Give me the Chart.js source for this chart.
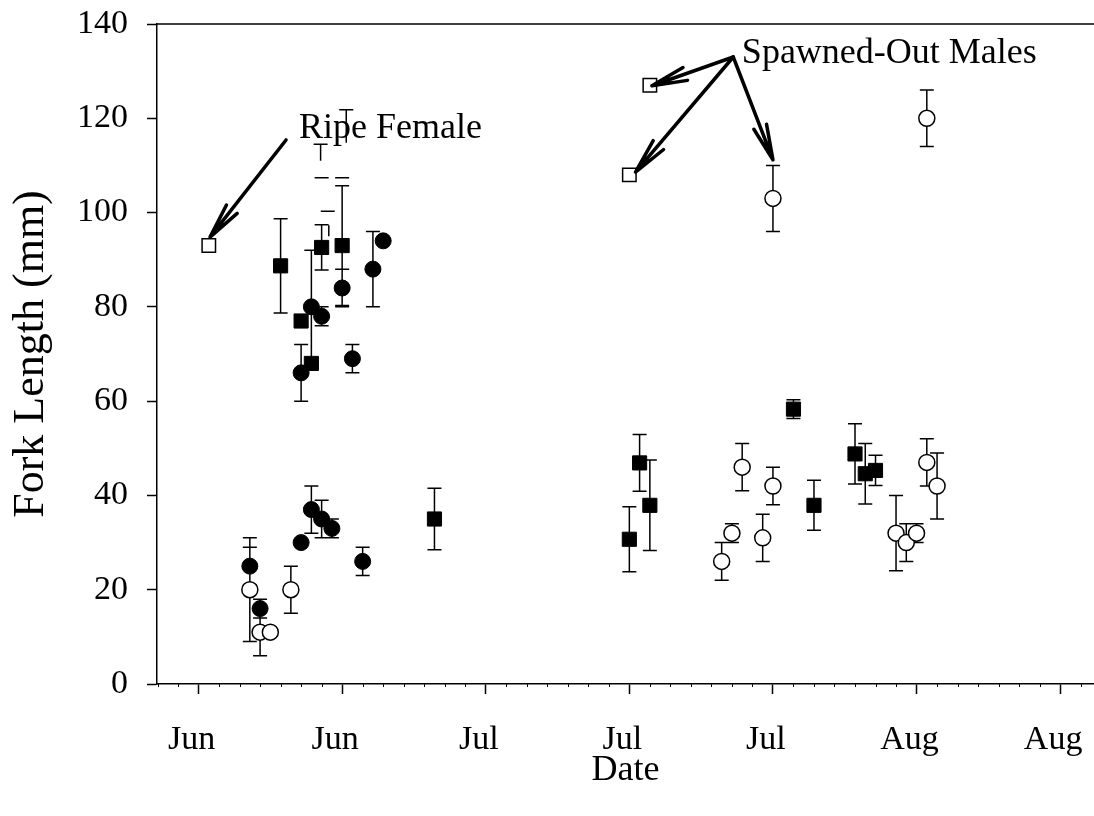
<!DOCTYPE html>
<html>
<head>
<meta charset="utf-8">
<title>Fork Length by Date</title>
<script src="https://cdn.jsdelivr.net/npm/chart.js@4/dist/chart.umd.min.js"></script>
<style>
  html, body { margin: 0; padding: 0; background: #fff; }
  #wrap { width: 1094px; height: 816px; }
</style>
</head>
<body>
<div id="wrap"><canvas id="fishChart" width="1094" height="816"></canvas></div>
<script>
/*================== data =========================*/
// x = days after the first labelled tick
const tickDays = [0, 14, 28, 42, 56, 70, 84];
const tickLabels = ['Jun', 'Jun', 'Jul', 'Jul', 'Jul', 'Aug', 'Aug'];

const filledCircleDays = [5, 6, 10, 10, 11, 11, 12, 12, 13, 14, 15, 16, 17, 18];
const filledCircleLen  = [25, 16, 30, 66, 37, 80, 35, 78, 33, 84, 69, 26, 88, 94];
const filledCircleErr  = [4, 2, 0, 6, 5, 12, 4, 2, 2, 4, 3, 3, 8, 0];

const filledSquareDays = [8, 10, 11, 12, 14, 23, 42, 43, 44, 58, 60, 64, 65, 66];
const filledSquareLen  = [88.7, 77, 68, 92.6, 93, 35, 30.7, 46.9, 37.9, 58.3, 37.9, 48.8, 44.6, 45.3];
const filledSquareErr  = [10, 0, 0, 4.8, 12.7, 6.5, 6.9, 6, 9.6, 2, 5.3, 6.4, 6.4, 3.2];

const openCircleDays = [5, 6, 7, 9, 51, 52, 53, 55, 56, 56, 68, 69, 70, 71, 71, 72];
const openCircleLen  = [20, 11, 11, 20, 26, 32, 46, 31, 42, 103, 32, 30, 32, 47, 120, 42];
const openCircleErr  = [11, 5, 0, 5, 4, 2, 5, 5, 4, 7, 8, 4, 2, 5, 6, 7];

const openSquareDays = [1, 42, 44];
const openSquareLen  = [93, 108, 127];

// loose error-bar pieces above the June cluster (no marker attached)
const strayBarDays = [11.9, 14.4, 12.7];
const strayBarLo   = [111, 114.8, 95];
const strayBarHi   = [114.5, 121.8, 97.3];
const strayBarCap  = [true, true, false];
const strayCapDays = [12, 14, 12.6];
const strayCapLen  = [107.4, 107.4, 100.3];

// annotation text + arrows, in axis units
const notes = [
    { text: 'Ripe Female', x: 9.8, y: 115.8,
      arrows: [[8.53, 115.4, 1.12, 94.8]] },
    { text: 'Spawned-Out Males', x: 52.97, y: 131.8,
      arrows: [[52.13, 133, 44.2, 126.9], [52.13, 133, 42.6, 108.6], [52.13, 133, 56, 111.2]] }
];

const serif = "'Liberation Serif', 'Times New Roman', serif";

function toPoints(xs, ys) {
    return xs.map((x, i) => ({ x: x, y: ys[i] }));
}

/*================== plugins =========================*/
const errorBars = {
    id: 'errorBars',
    beforeDatasetsDraw(chart) {
        const ctx = chart.ctx;
        const xs = chart.scales.x, ys = chart.scales.y;
        const cap = 7;
        ctx.save();
        ctx.strokeStyle = '#000';
        ctx.lineWidth = 1.5;
        ctx.beginPath();
        chart.data.datasets.forEach(ds => {
            if (!ds.errors) return;
            ds.data.forEach((p, i) => {
                let e = ds.errors[i];
                if (!e) return;
                let px = xs.getPixelForValue(p.x);
                let top = ys.getPixelForValue(p.y + e);
                let bot = ys.getPixelForValue(p.y - e);
                ctx.moveTo(px, top); ctx.lineTo(px, bot);
                ctx.moveTo(px - cap, top); ctx.lineTo(px + cap, top);
                ctx.moveTo(px - cap, bot); ctx.lineTo(px + cap, bot);
            });
        });
        strayBarDays.forEach((d, i) => {
            let px = xs.getPixelForValue(d);
            let top = ys.getPixelForValue(strayBarHi[i]);
            ctx.moveTo(px, top); ctx.lineTo(px, ys.getPixelForValue(strayBarLo[i]));
            if (strayBarCap[i]) { ctx.moveTo(px - cap, top); ctx.lineTo(px + cap, top); }
        });
        strayCapDays.forEach((d, i) => {
            let px = xs.getPixelForValue(d), py = ys.getPixelForValue(strayCapLen[i]);
            ctx.moveTo(px - cap, py); ctx.lineTo(px + cap, py);
        });
        ctx.stroke();
        ctx.restore();
    }
};

const frame = {
    id: 'frame',
    afterDraw(chart) {
        const ctx = chart.ctx;
        const a = chart.chartArea;
        const xs = chart.scales.x, ys = chart.scales.y;
        ctx.save();
        ctx.strokeStyle = '#000';
        ctx.lineWidth = 1.5;
        // top line
        ctx.beginPath();
        ctx.moveTo(a.left, a.top); ctx.lineTo(a.right, a.top);
        ctx.stroke();
        // minor ticks every 2 days
        ctx.lineWidth = 1;
        ctx.beginPath();
        for (let d = Math.ceil(xs.min / 2) * 2; d <= xs.max; d += 2) {
            if (tickDays.includes(d)) continue;
            let px = Math.round(xs.getPixelForValue(d)) + 0.5;
            ctx.moveTo(px, a.bottom); ctx.lineTo(px, a.bottom + 3);
        }
        ctx.stroke();

        // annotations
        ctx.lineWidth = 3.5;
        ctx.lineCap = 'round';
        ctx.lineJoin = 'round';
        notes.forEach(n => {
            n.arrows.forEach(ar => {
                let x0 = xs.getPixelForValue(ar[0]), y0 = ys.getPixelForValue(ar[1]);
                let x1 = xs.getPixelForValue(ar[2]), y1 = ys.getPixelForValue(ar[3]);
                let ang = Math.atan2(y0 - y1, x0 - x1);
                let len = 36, spread = 0.19;
                ctx.beginPath();
                ctx.moveTo(x0, y0); ctx.lineTo(x1, y1);
                ctx.moveTo(x1 + len * Math.cos(ang - spread), y1 + len * Math.sin(ang - spread));
                ctx.lineTo(x1, y1);
                ctx.lineTo(x1 + len * Math.cos(ang + spread), y1 + len * Math.sin(ang + spread));
                ctx.stroke();
            });
            ctx.fillStyle = '#000';
            ctx.font = '36px ' + serif;
            ctx.textAlign = 'left';
            ctx.textBaseline = 'alphabetic';
            ctx.fillText(n.text, xs.getPixelForValue(n.x), ys.getPixelForValue(n.y));
        });
        ctx.restore();
    }
};

/*================== chart =========================*/
const ctx = document.getElementById('fishChart').getContext('2d');

const fishChart = new Chart(ctx, {
    type: 'scatter',
    data: {
        datasets: [{
            label: 'Open circles',
            data: toPoints(openCircleDays, openCircleLen),
            errors: openCircleErr,
            pointStyle: 'circle',
            pointRadius: 8,
            backgroundColor: '#fff',
            borderColor: '#000',
            borderWidth: 1.5
        }, {
            label: 'Filled circles',
            data: toPoints(filledCircleDays, filledCircleLen),
            errors: filledCircleErr,
            pointStyle: 'circle',
            pointRadius: 8,
            backgroundColor: '#000',
            borderColor: '#000',
            borderWidth: 1
        }, {
            label: 'Filled squares',
            data: toPoints(filledSquareDays, filledSquareLen),
            errors: filledSquareErr,
            pointStyle: 'rect',
            pointRadius: 10,
            backgroundColor: '#000',
            borderColor: '#000',
            borderWidth: 1
        }, {
            label: 'Open squares',
            data: toPoints(openSquareDays, openSquareLen),
            pointStyle: 'rect',
            pointRadius: 9.5,
            backgroundColor: '#fff',
            borderColor: '#000',
            borderWidth: 1.5
        }]
    },
    options: {
        responsive: false,
        animation: false,
        layout: { autoPadding: false, padding: { top: 24, right: 0, left: 0, bottom: 0 } },
        plugins: {
            legend: { display: false },
            tooltip: { enabled: false }
        },
        scales: {
            x: {
                type: 'linear',
                min: -4.05,
                max: 87.3,
                afterFit: s => { s.height = 132; s.paddingLeft = 0; s.paddingRight = 0; },
                afterBuildTicks: s => { s.ticks = tickDays.map(v => ({ value: v })); },
                grid: { drawOnChartArea: false, tickLength: 10, color: '#000', tickWidth: 1.5 },
                border: { color: '#000', width: 1.5 },
                ticks: {
                    autoSkip: false,
                    maxRotation: 0,
                    padding: 26,
                    labelOffset: -7,
                    color: '#000',
                    font: { family: serif, size: 34 },
                    callback: (v, i) => tickLabels[i]
                },
                title: {
                    display: true,
                    text: 'Date',
                    color: '#000',
                    font: { family: serif, size: 36 },
                    padding: { top: 0, bottom: 24 }
                }
            },
            y: {
                min: 0,
                max: 140,
                afterFit: s => { s.width = 157; s.paddingTop = 0; s.paddingBottom = 0; },
                grid: { drawOnChartArea: false, tickLength: 10, color: '#000', tickWidth: 1.5 },
                border: { color: '#000', width: 1.5 },
                ticks: {
                    stepSize: 20,
                    padding: 19,
                    color: '#000',
                    font: { family: serif, size: 34 }
                },
                title: {
                    display: true,
                    text: 'Fork Length (mm)',
                    color: '#000',
                    font: { family: serif, size: 44 },
                    padding: { top: 5, bottom: 0 }
                }
            }
        }
    },
    plugins: [errorBars, frame]
});
</script>
</body>
</html>
